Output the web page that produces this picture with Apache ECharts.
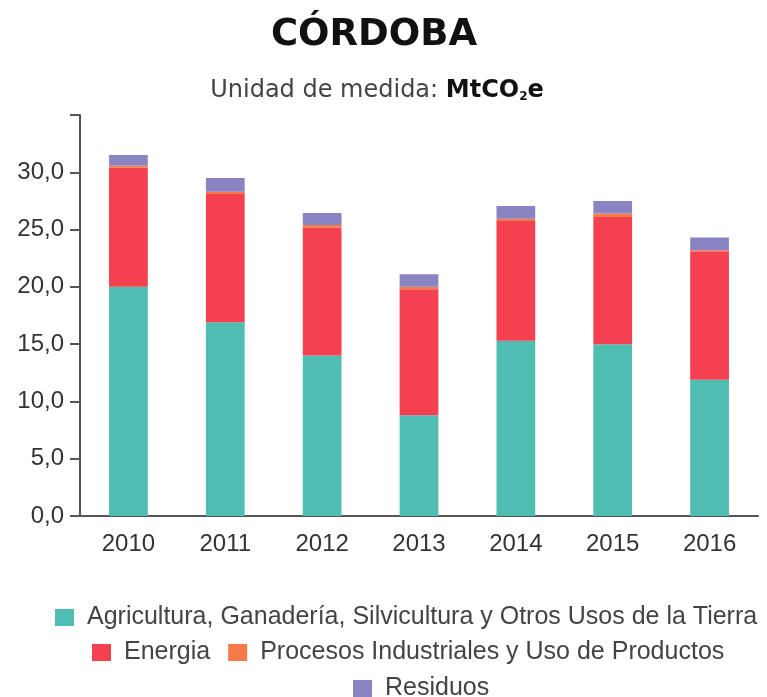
<!DOCTYPE html>
<html>
<head>
<meta charset="utf-8">
<script src="https://cdn.jsdelivr.net/npm/echarts@6/dist/echarts.min.js"></script>
<style>html,body{margin:0;padding:0;background:#fff;}#c{width:767px;height:697px;}</style>
</head>
<body>
<div id="c"></div>
<script>
const years = ['2010','2011','2012','2013','2014','2015','2016'];
const agricultura = [20.0, 16.9, 14.0, 8.8, 15.3, 15.0, 11.9];
const energia = [10.4, 11.2, 11.15, 11.0, 10.45, 11.1, 11.2];
const procesos = [0.2, 0.2, 0.25, 0.2, 0.2, 0.3, 0.1];
const residuos = [0.9, 1.2, 1.05, 1.1, 1.1, 1.1, 1.1];
const seriesNames = ['Agricultura, Ganadería, Silvicultura y Otros Usos de la Tierra','Energia','Procesos Industriales y Uso de Productos','Residuos'];
const colors = ['#4fbdb1','#f4404f','#f47a4a','#8b84c2'];

const chart = echarts.init(document.getElementById('c'));
const legendText = {fontFamily:'Liberation Sans', fontSize:25, lineHeight:20, color:'#444', padding:[0,0,0,8]};
const legendBase = {padding:0, itemWidth:19, itemHeight:17, icon:'rect', itemGap:18, textStyle:legendText};
const mk = (name, data, i) => ({name, type:'bar', stack:'t', data, barWidth:'40%', itemStyle:{color:colors[i]}});
chart.setOption({
  animation:false,
  title:[
    {text:'CÓRDOBA', left:369, textAlign:'center', top:12, textStyle:{fontFamily:'DejaVu Sans', fontWeight:'bold', fontSize:37, color:'#111'}},
    {text:'{n|Unidad de medida: }{b|MtCO}{s|2}{b|e}', left:372, textAlign:'center', top:74,
     textStyle:{fontWeight:'normal', rich:{
       n:{fontFamily:'DejaVu Sans', fontSize:24, fontWeight:'normal', color:'#444'},
       b:{fontFamily:'DejaVu Sans', fontSize:24, fontWeight:'bold', color:'#111'},
       s:{fontFamily:'DejaVu Sans', fontSize:12, fontWeight:'bold', color:'#111', verticalAlign:'bottom', padding:[11,0,0,0]}
     }}}
  ],
  grid:{left:80, right:9, top:115, bottom:181},
  xAxis:{type:'category', data:years,
    axisLine:{lineStyle:{color:'#555', width:2}},
    axisTick:{length:8, lineStyle:{color:'#555', width:2}},
    axisLabel:{fontFamily:'Liberation Sans', fontSize:24, color:'#333', margin:16}},
  yAxis:{type:'value', min:0, max:35, interval:5,
    axisLine:{show:true, lineStyle:{color:'#555', width:2}},
    axisTick:{show:true, length:10, lineStyle:{color:'#555', width:2}},
    splitLine:{show:false},
    axisLabel:{fontFamily:'Liberation Sans', fontSize:24, color:'#333', margin:16,
      formatter:v => v===35 ? '' : v.toFixed(1).replace('.',',')}},
  legend:[
    Object.assign({data:[seriesNames[0]], top:605, left:55}, legendBase),
    Object.assign({data:[seriesNames[1], seriesNames[2]], top:640, left:92}, legendBase),
    Object.assign({data:[seriesNames[3]], top:676, left:353}, legendBase)
  ],
  series:[
    mk(seriesNames[0], agricultura, 0),
    mk(seriesNames[1], energia, 1),
    mk(seriesNames[2], procesos, 2),
    mk(seriesNames[3], residuos, 3)
  ]
});
</script>
</body>
</html>
